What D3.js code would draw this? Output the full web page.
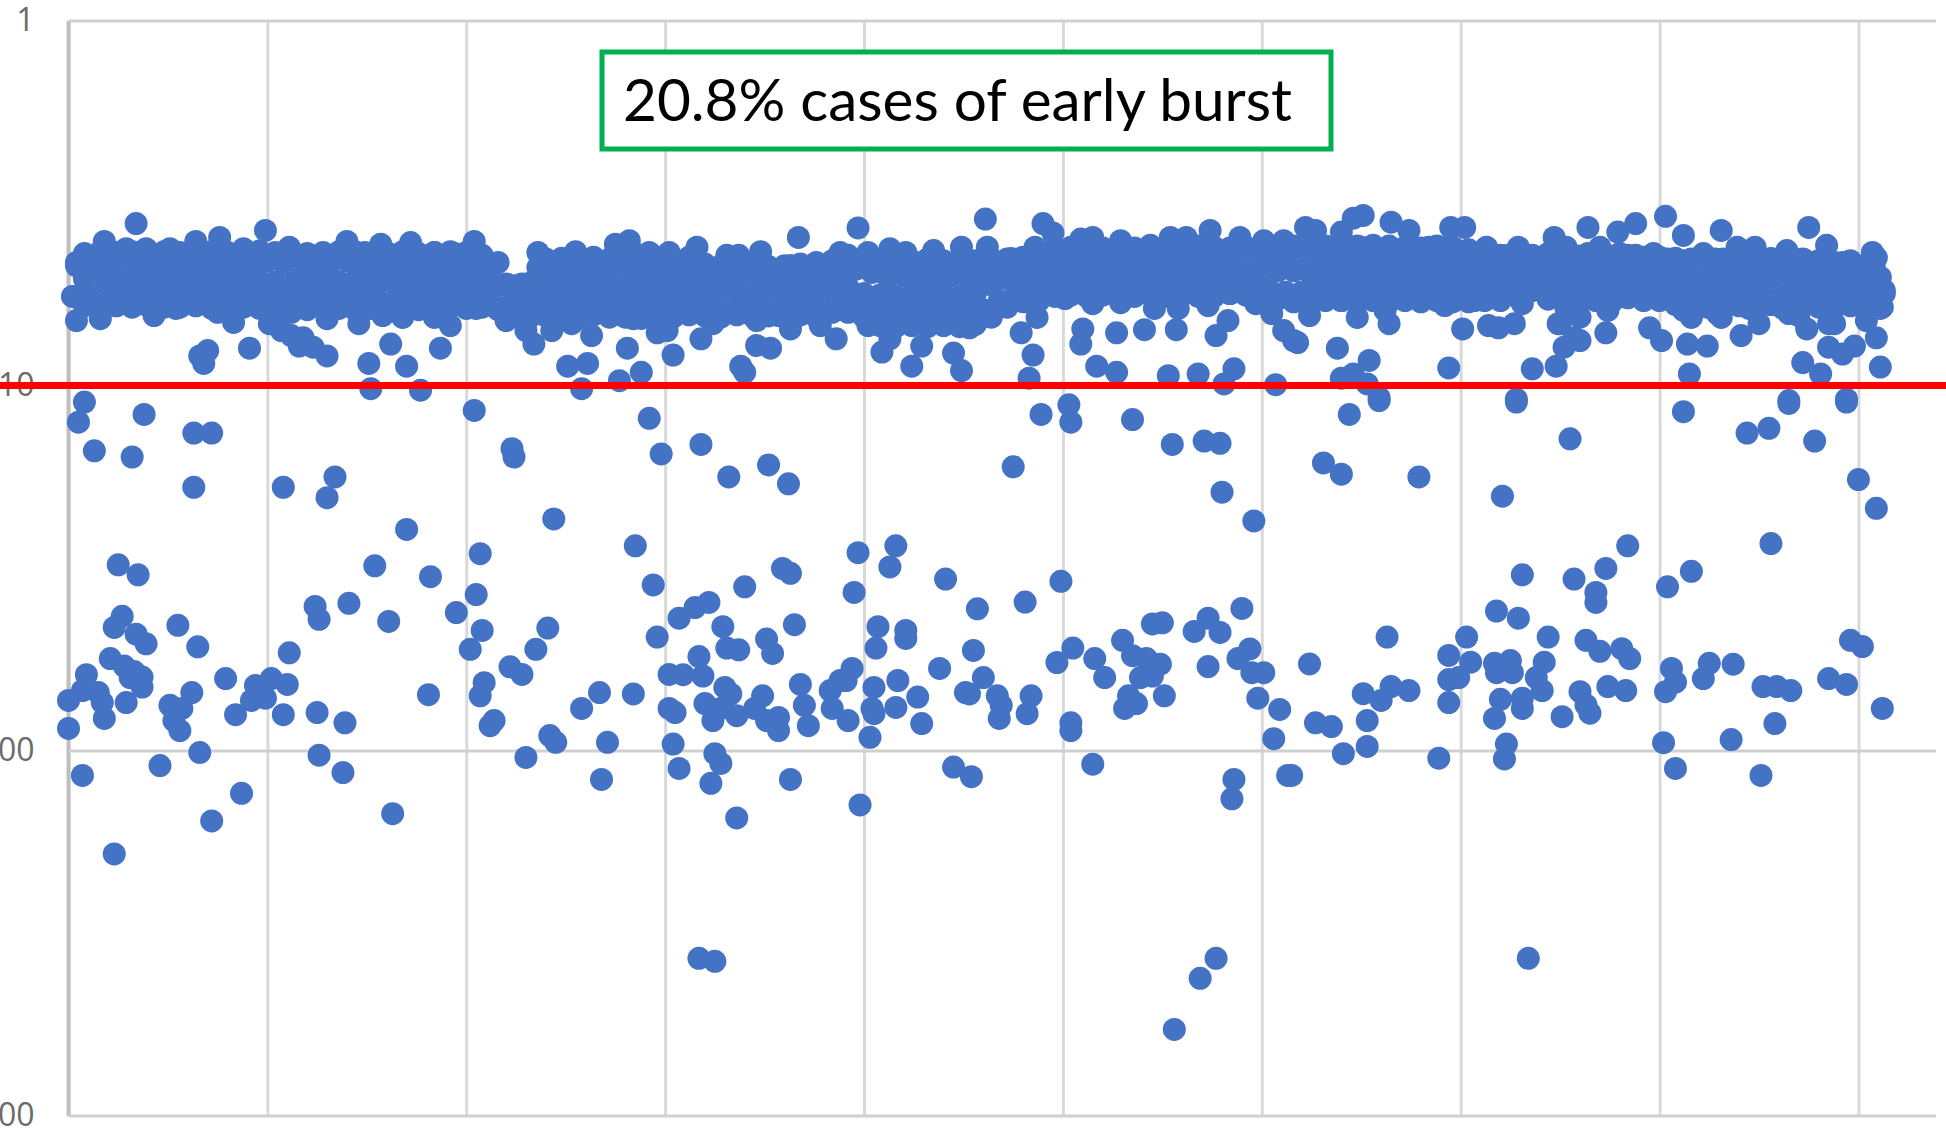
<!DOCTYPE html>
<html><head><meta charset="utf-8">
<script src="https://cdn.jsdelivr.net/npm/d3@7/dist/d3.min.js"></script>
<style>html,body{margin:0;padding:0;background:#fff;overflow:hidden}svg{display:block}</style>
</head><body><svg id="c" width="1946" height="1132"></svg>
<script>
const yTicks=[1,10,100,1000];
const xTicks=[0,100,200,300,400,500,600,700,800,900];
const threshold=10;
const note="20.8% cases of early burst";

// scattered cases below the threshold: [case, value]
const lowLeft=[[8,11.1],[5,12.6],[38,12],[13,15.1],[32,15.7],[63,13.5],[72,13.5],[63,19],[108,19],[134,17.8],[130,20.3],[170,24.8],[244,23.2],[204,11.7],[223,14.9],[224,15.7],[292,12.3],[298,15.4],[285,27.5],[25,31],[35,33],[154,31.2],[182,33.4],[207,28.9],[205,37.4],[294,35.2],[27,42.9],[23,46],[34,48],[39,51],[55,45.4],[65,52],[124,40.3],[126,43.7],[141,39.5],[161,44.3],[195,41.9],[208,46.9],[202,52.8],[241,46.2],[235,52.8],[296,48.9],[307,43.4],[111,54],[21,56],[28,58.7],[33,60.8],[37,62.9],[37,67],[31,63.1],[9,62],[7,68.5],[15,69.4],[0,72.9],[17,73.9],[29,73.9],[18,81.7],[0,87],[62,69.4],[51,75.2],[57,76.7],[53,82.8],[56,88.2],[79,63.5],[102,63.5],[94,66.4],[110,65.9],[92,72.9],[99,71.9],[84,79.8],[108,79.8],[125,78.7],[139,84],[181,70.3],[209,65.2],[207,70.8],[222,59],[228,61.9],[214,82.8],[212,85.5],[258,76.7],[267,69.4],[284,70],[242,91],[245,95],[271,95],[230,104.5],[302,61.9],[302,76.7],[304,96],[307,112],[66,101.3],[46,110],[7,117],[126,103],[138,114.9],[268,120],[87,131],[163,149],[72,156],[23,192]];
const lowMiddle=[[318,14.5],[332,17.8],[352,16.5],[362,18.6],[397,28.7],[416,27.5],[413,31.4],[395,36.9],[340,35.6],[359,31.7],[363,32.7],[315,40.6],[322,39.3],[329,45.8],[331,52.4],[337,53],[317,55.3],[351,49.5],[354,54.2],[365,45.2],[407,45.8],[421,46.9],[421,49.3],[406,52.4],[441,33.9],[457,40.9],[481,39.2],[499,34.4],[455,53.2],[438,59.6],[309,62],[319,62.5],[330,67.2],[333,70],[320,74.4],[324,82.8],[336,80.3],[328,76.7],[305,78.7],[349,70.8],[345,76.7],[357,81.2],[357,88.2],[351,82.8],[368,65.9],[370,75.2],[372,85.5],[394,59.6],[388,64.3],[383,68.5],[384,76.7],[392,82.8],[391,64.3],[405,67.2],[404,76.7],[405,79.3],[403,92],[417,64.3],[416,76.2],[427,71.4],[429,84.4],[451,69.4],[453,70],[460,63.1],[467,70.8],[469,75.2],[468,81.7],[484,70.8],[482,79.3],[497,57.4],[505,52.4],[516,56],[521,63.1],[504,84],[504,88.2],[530,49.9],[535,55],[545,45],[550,44.7],[542,56],[549,58],[539,63.1],[545,62.5],[551,70.8],[533,70.8],[537,74.4],[531,76.7],[573,43.4],[566,47.2],[579,47.5],[590,40.8],[573,58.9],[588,56],[594,52.7],[595,61.2],[601,61.2],[598,71.9],[609,77.2],[606,92.8],[325,102],[328,108.5],[323,123],[363,120],[445,111],[454,118],[515,109],[586,120],[585,135.6],[613,117],[398,141],[336,153],[489,12],[504,12.6],[503,11.3],[535,12.4],[555,14.5],[571,14.2],[579,14.4],[580,19.6],[596,23.5],[475,16.7]];
const lowRight=[[644,12],[659,11],[631,16.3],[640,17.5],[679,17.8],[721,20.1],[728,11.1],[755,14],[812,11.8],[844,13.5],[855,13.1],[878,14.2],[865,11.2],[894,11.1],[900,18.1],[909,21.7],[856,27.1],[784,27.5],[773,31.7],[731,33],[757,33.9],[768,36.9],[768,39.3],[804,35.6],[816,32.3],[718,41.5],[729,43.4],[663,48.9],[703,48.9],[744,48.9],[624,57.9],[694,54.9],[705,57.3],[694,63.9],[699,63.1],[694,73.9],[717,57.7],[725,56.7],[718,61.2],[726,61.2],[742,57.3],[738,63.1],[741,68.5],[720,72.4],[731,71.9],[731,76.7],[717,81.7],[751,80.8],[760,69],[763,75],[765,79],[763,49.9],[770,53.5],[781,52.6],[785,56],[774,66.8],[783,68.5],[806,59.6],[808,65],[803,69],[825,57.7],[837,58],[822,63.5],[852,66.8],[859,66.8],[866,68.5],[885,63.5],[894,65.9],[896,49.9],[902,51.9],[858,84.4],[912,76.7],[651,69.9],[660,72.9],[665,66.8],[674,68.5],[653,82.8],[627,84],[635,86],[653,97.5],[641,102],[689,105],[615,117],[723,96],[722,105.5],[802,95.2],[836,93.3],[808,112],[851,117],[317,371],[325,378],[556,581],[569,421],[577,371],[734,371]];

// edges of the dense band
const bandTop=[[34,3.6],[18,4.03],[4,4.7],[2,5.7],[64,4.03],[76,3.93],[99,3.76],[140,4.03],[157,4.1],[172,4.06],[184,4.32],[204,4.03],[236,4.32],[255,4.3],[275,4.1],[282,4.01],[292,4.32],[302,4.32],[29,4.22],[39,4.22],[51,4.22],[88,4.22],[111,4.18],[127,4.4],[149,4.32],[194,4.35],[212,4.75],[220,5.27],[228,5.27],[247,4.94],[266,4.63],[316,4.18],[331,4.4],[337,4.4],[348,4.3],[357,4.8],[363,4.69],[367,3.93],[375,4.8],[388,4.32],[397,3.7],[402,4.32],[413,4.22],[421,4.32],[435,4.27],[449,4.18],[462,4.18],[461,3.5],[474,4.49],[486,4.18],[490,3.6],[495,3.82],[509,3.97],[515,3.93],[529,4.01],[544,4.13],[554,3.93],[562,3.93],[574,3.76],[589,3.93],[601,4.01],[611,4.01],[651,3.42],[646,3.48],[622,3.69],[640,3.8],[665,3.57],[674,3.76],[695,3.69],[702,3.69],[713,4.18],[729,4.18],[747,3.93],[764,3.69],[779,3.8],[788,3.6],[803,3.44],[812,3.88],[831,3.76],[848,4.18],[864,4.27],[875,3.69],[884,4.13],[907,4.32],[909,4.46],[627,3.76],[650,4.18],[656,4.13],[684,4.18],[690,4.18],[719,4.46],[738,4.46],[753,4.18],[770,4.18],[797,4.35],[822,4.35],[839,4.18],[856,4.49],[873,4.54],[894,4.69],[913,5.49]];
const bandBottom=[[66,8.3],[70,8.02],[68,8.7],[91,7.9],[123,7.85],[130,8.3],[151,8.7],[152,10.2],[162,7.7],[170,8.85],[177,10.3],[187,7.9],[234,7.7],[263,7.3],[261,8.7],[251,8.85],[258,10.2],[277,9.7],[288,9.2],[281,7.9],[304,8.25],[4,6.64],[16,6.56],[43,6.43],[101,6.77],[107,7.07],[130,6.56],[146,6.77],[184,6.51],[192,6.85],[83,6.72],[220,6.64],[243,7.07],[253,6.77],[296,7.17],[284,6.56],[274,6.35],[24,6.04],[36,5.97],[54,6.15],[64,5.97],[75,6.3],[118,7.4],[112,7.3],[116,7.8],[158,6.43],[168,6.51],[205,6.15],[230,7.07],[262,6.1],[309,6.3],[301,7.07],[318,7.45],[324,6.77],[337,6.3],[346,6.64],[357,6.43],[363,7],[371,6.15],[378,6.85],[386,7.45],[394,5.6],[402,6.85],[413,7.45],[409,8.1],[424,8.85],[429,7.8],[445,8.15],[449,9.1],[453,6.95],[468,6.1],[479,7.17],[487,6.51],[501,5.78],[515,5.97],[529,5.93],[546,6.15],[558,6.15],[573,6.04],[584,5.6],[597,5.97],[605,6.35],[611,7.07],[346,7.77],[353,7.9],[338,8.85],[340,9.2],[485,8.25],[483,9.55],[510,7],[509,7.7],[527,7.17],[541,7.03],[557,7.03],[517,8.85],[527,9.2],[553,9.4],[568,9.3],[586,9],[581,9.9],[607,9.95],[583,6.64],[577,7.3],[616,7.53],[618,7.63],[624,6.43],[648,6.51],[664,6.77],[638,7.9],[654,8.54],[646,9.3],[640,9.55],[653,9.9],[659,10.8],[694,8.95],[701,7],[714,6.85],[727,6.77],[731,5.97],[719,6.95],[743,5.6],[750,6.77],[760,7.53],[752,7.85],[748,8.85],[736,9],[773,7.17],[774,6.23],[795,6.95],[801,7.53],[814,7.7],[824,7.8],[815,9.3],[831,6.51],[816,6.51],[841,7.3],[850,6.77],[865,6.35],[874,7],[885,6.77],[885,7.85],[892,8.2],[898,7.8],[909,7.4],[912,6.1],[913,5.6],[911,5.05],[911,8.9],[872,8.65],[881,9.3],[865,11],[894,10.9],[728,10.9],[631,5.6],[640,5.85],[662,6.23],[675,5.73],[692,6.04],[707,5.85],[732,5.16],[783,5.6],[804,5.49],[812,6.23],[829,6.35],[845,6.15],[862,6.15],[870,6.43],[888,6.77],[904,6.64],[911,6.15],[753,6.15],[749,6.77],[760,6.5],[757,7.4]];

// inside of the dense band, estimated row by row
const coreCases=[4,12,20,28,36,44,52,60,68,76,84,92,100,108,116,124,132,140,148,156,164,172,180,188,196,204,212,220,228,236,244,252,260,268,276,284,292,300,308,316,324,332,340,348,356,364,372,380,388,396,404,412,420,428,436,444,452,460,468,476,484,492,500,508,516,524,532,540,548,556,564,572,580,588,596,604,612,620,628,636,644,652,660,668,676,684,692,700,708,716,724,732,740,748,756,764,772,780,788,796,804,812,820,828,836,844,852,860,868,876,884,892,900,908];
const coreUpper=[4.6,4.5,4.55,4.5,4.55,4.5,4.6,4.55,4.6,4.55,4.6,4.6,4.55,4.6,4.65,4.6,4.6,4.55,4.6,4.6,4.65,4.6,4.6,4.65,4.6,4.6,4.7,5.3,5.3,4.75,4.7,4.75,4.8,4.75,4.7,4.75,4.75,4.8,4.8,4.85,4.9,4.9,4.85,4.9,4.95,4.9,4.9,4.85,4.9,4.8,4.9,5.05,5,5.05,5.05,5,5.05,5,4.85,4.6,4.5,4.5,4.3,4.35,4.3,4.3,4.35,4.3,4.3,4.3,4.35,4.3,4.3,4.35,4.3,4.3,4.35,4.3,4.4,4.35,4.4,4.35,4.4,4.4,4.35,4.4,4.35,4.4,4.4,4.45,4.4,4.4,4.45,4.4,4.4,4.35,4.4,4.35,4.4,4.4,4.5,4.55,4.5,4.5,4.55,4.55,4.6,4.55,4.55,4.6,4.55,4.6,4.7,4.75];
const coreLower=[5.7,5.75,5.7,5.65,5.7,5.7,5.75,5.75,5.75,5.8,5.8,5.8,5.85,5.9,5.85,5.85,5.8,5.8,5.8,5.85,5.85,5.8,5.8,5.75,5.8,5.8,5.75,6.1,6.2,5.95,6,5.95,5.95,6,6,5.95,6,6,6.1,6.15,6.15,6.2,6.15,6.15,6.2,6.2,6.15,6.2,6.15,6,6.35,6.4,6.4,6.35,6.4,6.4,6.35,6.2,5.85,5.7,5.65,5.5,5.45,5.4,5.45,5.45,5.4,5.45,5.45,5.45,5.4,5.45,5.4,5.45,5.45,5.5,5.55,5.55,5.5,5.5,5.5,5.55,5.5,5.5,5.5,5.55,5.5,5.5,5.5,5.5,5.45,5.4,5.4,5.5,5.55,5.5,5.45,5.5,5.5,5.5,5.6,5.65,5.7,5.7,5.7,5.7,5.7,5.75,5.75,5.7,5.7,5.75,5.75,5.7];
const coreMiddleCases=[8,16,24,32,40,48,56,64,72,80,88,96,104,112,120,128,136,144,152,160,168,176,184,192,200,208,216,224,232,240,248,256,264,272,280,288,296,304,312,320,328,336,344,352,360,368,376,384,392,400,408,416,424,432,440,448,456,464,472,480,488,496,504,512,520,528,536,544,552,560,568,576,584,592,600,608,616,624,632,640,648,656,664,672,680,688,696,704,712,720,728,736,744,752,760,768,776,784,792,800,808,816,824,832,840,848,856,864,872,880,888,896,904];
const coreMiddle=[5.1,5.05,5.1,5.1,5.05,5.1,5.15,5.1,5.16,5.15,5.2,5.15,5.2,5.25,5.2,5.15,5.2,5.15,5.2,5.15,5.2,5.15,5.15,5.2,5.15,5.15,5.3,5.7,5.5,5.35,5.3,5.35,5.3,5.35,5.3,5.35,5.35,5.4,5.45,5.5,5.45,5.5,5.5,5.45,5.5,5.5,5.5,5.45,5.4,5.6,5.65,5.7,5.65,5.7,5.65,5.7,5.6,5.3,5.1,5.05,5,4.85,4.85,4.8,4.85,4.85,4.8,4.85,4.85,4.8,4.85,4.85,4.85,4.9,4.85,4.85,4.85,4.9,4.9,4.9,4.95,4.9,4.9,4.9,4.95,4.9,4.9,4.9,4.95,4.9,4.85,4.9,4.9,4.9,4.95,4.9,4.9,4.9,4.9,5,5.05,5.1,5.1,5.05,5.1,5.1,5.05,5.1,5.1,5.1,5.15,5.15,5.2];
const outerUpper=[4.35,4.3,4.32,4.3,4.35,4.3,4.32,4.35,4.3,4.32,4.3,4.28,4.32,4.3,4.35,4.32,4.3,4.3,4.35,4.32,4.3,4.35,4.32,4.3,4.32,4.4,4.6,5.33,5.25,4.5,4.48,4.5,4.45,4.5,4.45,4.4,4.45,4.5,4.45,4.65,4.7,4.65,4.7,4.72,4.7,4.65,4.6,4.55,4.4,4.5,4.55,4.5,4.55,4.5,4.55,4.5,4.55,4.5,4.5,4.45,4.4,4.2,4.18,4.15,4.2,4.18,4.2,4.15,4.2,4.18,4.15,4.18,4.2,4.18,4.2,4.2,4.15,4.18,4.15,4.2,4.15,4.18,4.15,4.18,4.2,4.15,4.18,4.25,4.3,4.4,4.42,4.4,4.35,4.4,4.42,4.4,4.42,4.4,4.45,4.45,4.48,4.5,4.45,4.5,4.48,4.5,4.5,4.55,4.5,4.55,4.6,4.55,4.7];
const outerLower=[6.05,6.1,6.05,6.1,6.05,6.1,6.1,6.05,6.15,6.2,6.1,6.15,6.3,6.3,6.2,6.15,6.15,6.2,6.15,6.15,6.1,6.2,6.15,6.1,6.15,6.1,6.2,6.43,6.5,6.45,6.5,6.55,6.4,6.5,6.5,6.55,6.5,6.5,6.4,6.45,6.5,6.4,6.45,6.45,6.5,6.4,6.5,6.3,6.3,6.5,6.85,6.9,6.85,6.9,6.85,6.9,6.8,6.5,6.1,5.9,5.85,5.7,5.65,5.7,5.65,5.7,5.7,5.65,5.7,5.65,5.7,5.7,5.6,5.65,5.7,5.8,5.9,5.9,5.85,5.85,5.9,5.85,5.9,5.85,5.9,5.85,5.9,5.9,5.85,5.85,5.7,5.5,5.8,5.9,5.85,5.85,5.9,5.75,5.85,5.85,6,6.05,6.1,6.05,6.05,6.05,6,6.05,6.05,6.1,6.1,6.05,6.1];

const left=68.5,right=1936,top_=21,bottom=1116,width=1946,height=1132;
const x=d3.scaleLinear().domain([0,939]).range([left,right]);
const y=d3.scaleLog().domain([1,1000]).range([top_-0.5,bottom-0.5]);

const svg=d3.select("#c");
svg.append("rect").attr("width",width).attr("height",height).attr("fill","#fff");

const gx=svg.append("g").attr("transform",`translate(0,${bottom})`)
  .call(d3.axisBottom(x).tickValues(xTicks).tickSize(-(bottom-top_)).tickFormat(""));
gx.selectAll(".tick line").attr("stroke","#d9d9d9").attr("stroke-width",3);
gx.select(".domain").remove();

const gy=svg.append("g").attr("transform",`translate(${left},0)`)
  .call(d3.axisLeft(y).tickValues(yTicks).tickSize(-(right-left)).tickPadding(34).tickFormat(d3.format("d")));
gy.select(".domain").attr("d",`M0,${top_}V${bottom}`).attr("stroke","#bfbfbf").attr("stroke-width",4);
gy.selectAll(".tick line").attr("stroke","#d0d0d0").attr("stroke-width",3);
gy.selectAll(".tick text").attr("font-family","'Open Sans',sans-serif").attr("font-weight",400)
  .attr("font-size",32).attr("fill","#6b6b6b");

const core=[
  ...coreMiddleCases.map((c,i)=>[c,outerUpper[i]]),
  ...coreCases.map((c,i)=>[c,coreUpper[i]]),
  ...coreMiddleCases.map((c,i)=>[c,coreMiddle[i]]),
  ...coreCases.map((c,i)=>[c,coreLower[i]]),
  ...coreMiddleCases.map((c,i)=>[c,outerLower[i]])
];
const points=[...core,...bandTop,...bandBottom,...lowLeft,...lowMiddle,...lowRight];
svg.append("g").selectAll("circle").data(points).join("circle")
  .attr("cx",d=>x(d[0])).attr("cy",d=>y(d[1])).attr("r",11.5).attr("fill","#4472C4");

svg.append("line").attr("x1",0).attr("x2",width).attr("y1",y(threshold)).attr("y2",y(threshold))
  .attr("stroke","#ff0000").attr("stroke-width",7);

const box=svg.append("g");
box.append("rect").attr("x",602).attr("y",52).attr("width",729).attr("height",97)
  .attr("fill","#fff").attr("stroke","#00B050").attr("stroke-width",5);
box.append("text").attr("x",623).attr("y",121).text(note)
  .attr("font-family","Lato,sans-serif").attr("font-size",59).attr("fill","#000")
  .attr("textLength",669).attr("lengthAdjust","spacingAndGlyphs");
</script></body></html>
